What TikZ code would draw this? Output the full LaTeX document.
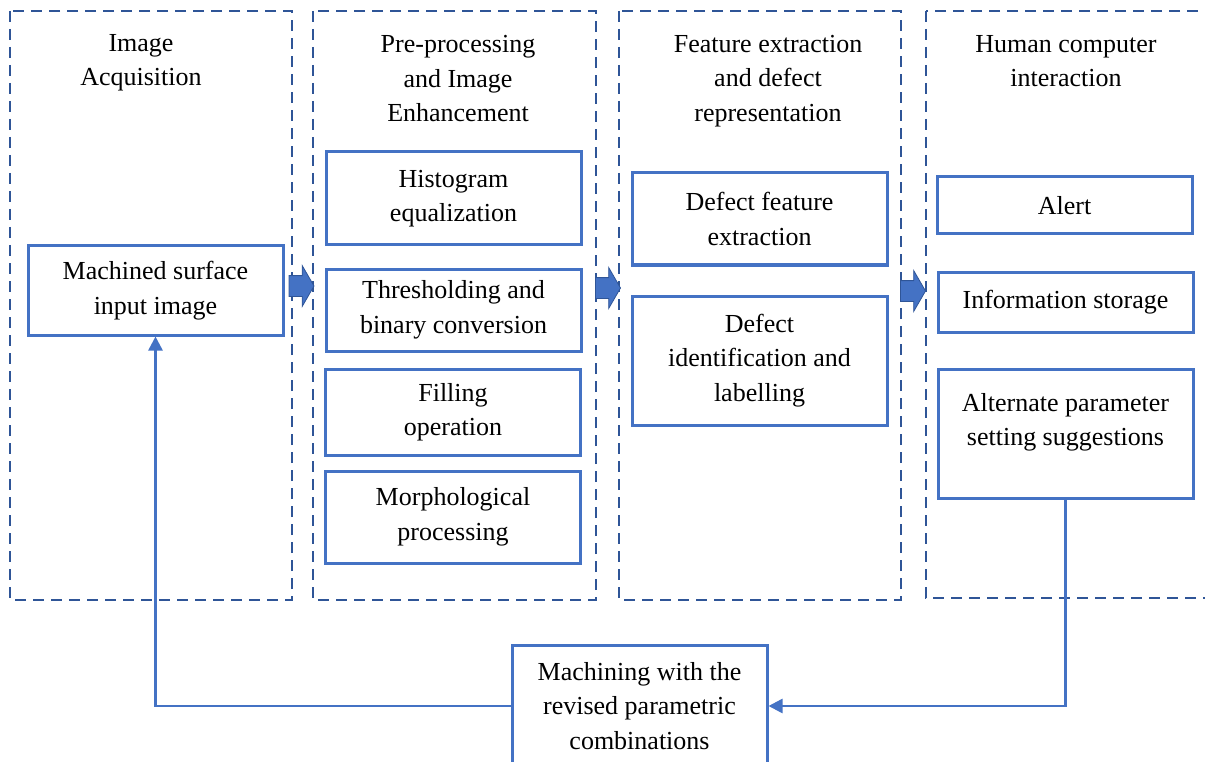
\documentclass[tikz,border=0pt]{standalone}
\usepackage{fontspec}
\setmainfont{Liberation Serif}
\usetikzlibrary{arrows.meta, positioning, shapes.arrows}
\definecolor{boxblue}{HTML}{4472C4}
\definecolor{frameblue}{HTML}{2F5597}

\begin{document}
\begin{tikzpicture}[x=1pt, y=-1pt,
  every node/.style={font=\fontsize{26}{34.5}\selectfont},
  stage/.style={draw=frameblue, line width=2.5pt, dash pattern=on 11pt off 7pt},
  task/.style={draw=boxblue, line width=3pt, align=center, minimum width=255pt, inner sep=0pt},
  flow/.style={single arrow, draw=frameblue, fill=boxblue, line width=0.8pt,
    inner xsep=0pt, inner ysep=10pt, font=\tiny,
    minimum width=40pt, minimum height=25pt, single arrow head extend=10pt,
    single arrow tip angle=120},
  back/.style={draw=boxblue, line width=2.5pt, -{Triangle[length=14pt, width=14pt]}}]
  \clip (0,0) rectangle (1205,762);

  % 4 stages (dashed frames)
  \foreach \xa/\xb/\yb in {10/292/600, 313/596/600, 619/901/600, 926/1240/598} {
    \draw[stage] (\xa,11) rectangle (\xb,\yb);
  }
  \foreach \n/\x/\y/\t in {acq/141/63/{Image\\Acquisition},
      pre/458/79/{Pre-processing\\and Image\\Enhancement},
      feat/768/81/{Feature extraction\\and defect\\representation},
      hci/1066/61/{Human computer\\interaction}} {
    \node[align=center] (\n) at (\x,\y) {\t};
  }

  % task boxes
  \foreach \n/\x/\y/\h/\t in {input/155.5/290.5/89/{Machined surface\\input image},
      histo/453.5/198.5/93/{Histogram\\equalization},
      thresh/453.5/310/82/{Thresholding and\\binary conversion},
      fill/453/412/86/{Filling\\operation},
      morph/453/517/92/{Morphological\\processing},
      dfeat/759.5/219/92/{Defect feature\\extraction},
      dlabel/759.5/360.5/129/{Defect\\identification and\\labelling},
      alert/1064.5/205.5/57/{Alert},
      store/1065.5/302/60/{Information storage},
      alt/1065.5/433.5/129/{Alternate parameter\\setting suggestions\\[-6pt]\mbox{}},
      mach/639.5/706/122/{Machining with the\\revised parametric\\combinations}} {
    \node[task, minimum height=\h pt] (\n) at (\x,\y) {\t};
  }

  % block arrows between stages
  \node[flow] (f1) at (298.5,286) {};
  \node[flow] (f2) at (605,288) {};
  \node[flow] (f3) at (910,291) {};

  % feedback loop
  \draw[back] (alt.south) |- (mach.east);
  \draw[back] (mach.west) -| (input.south);
\end{tikzpicture}
\end{document}
